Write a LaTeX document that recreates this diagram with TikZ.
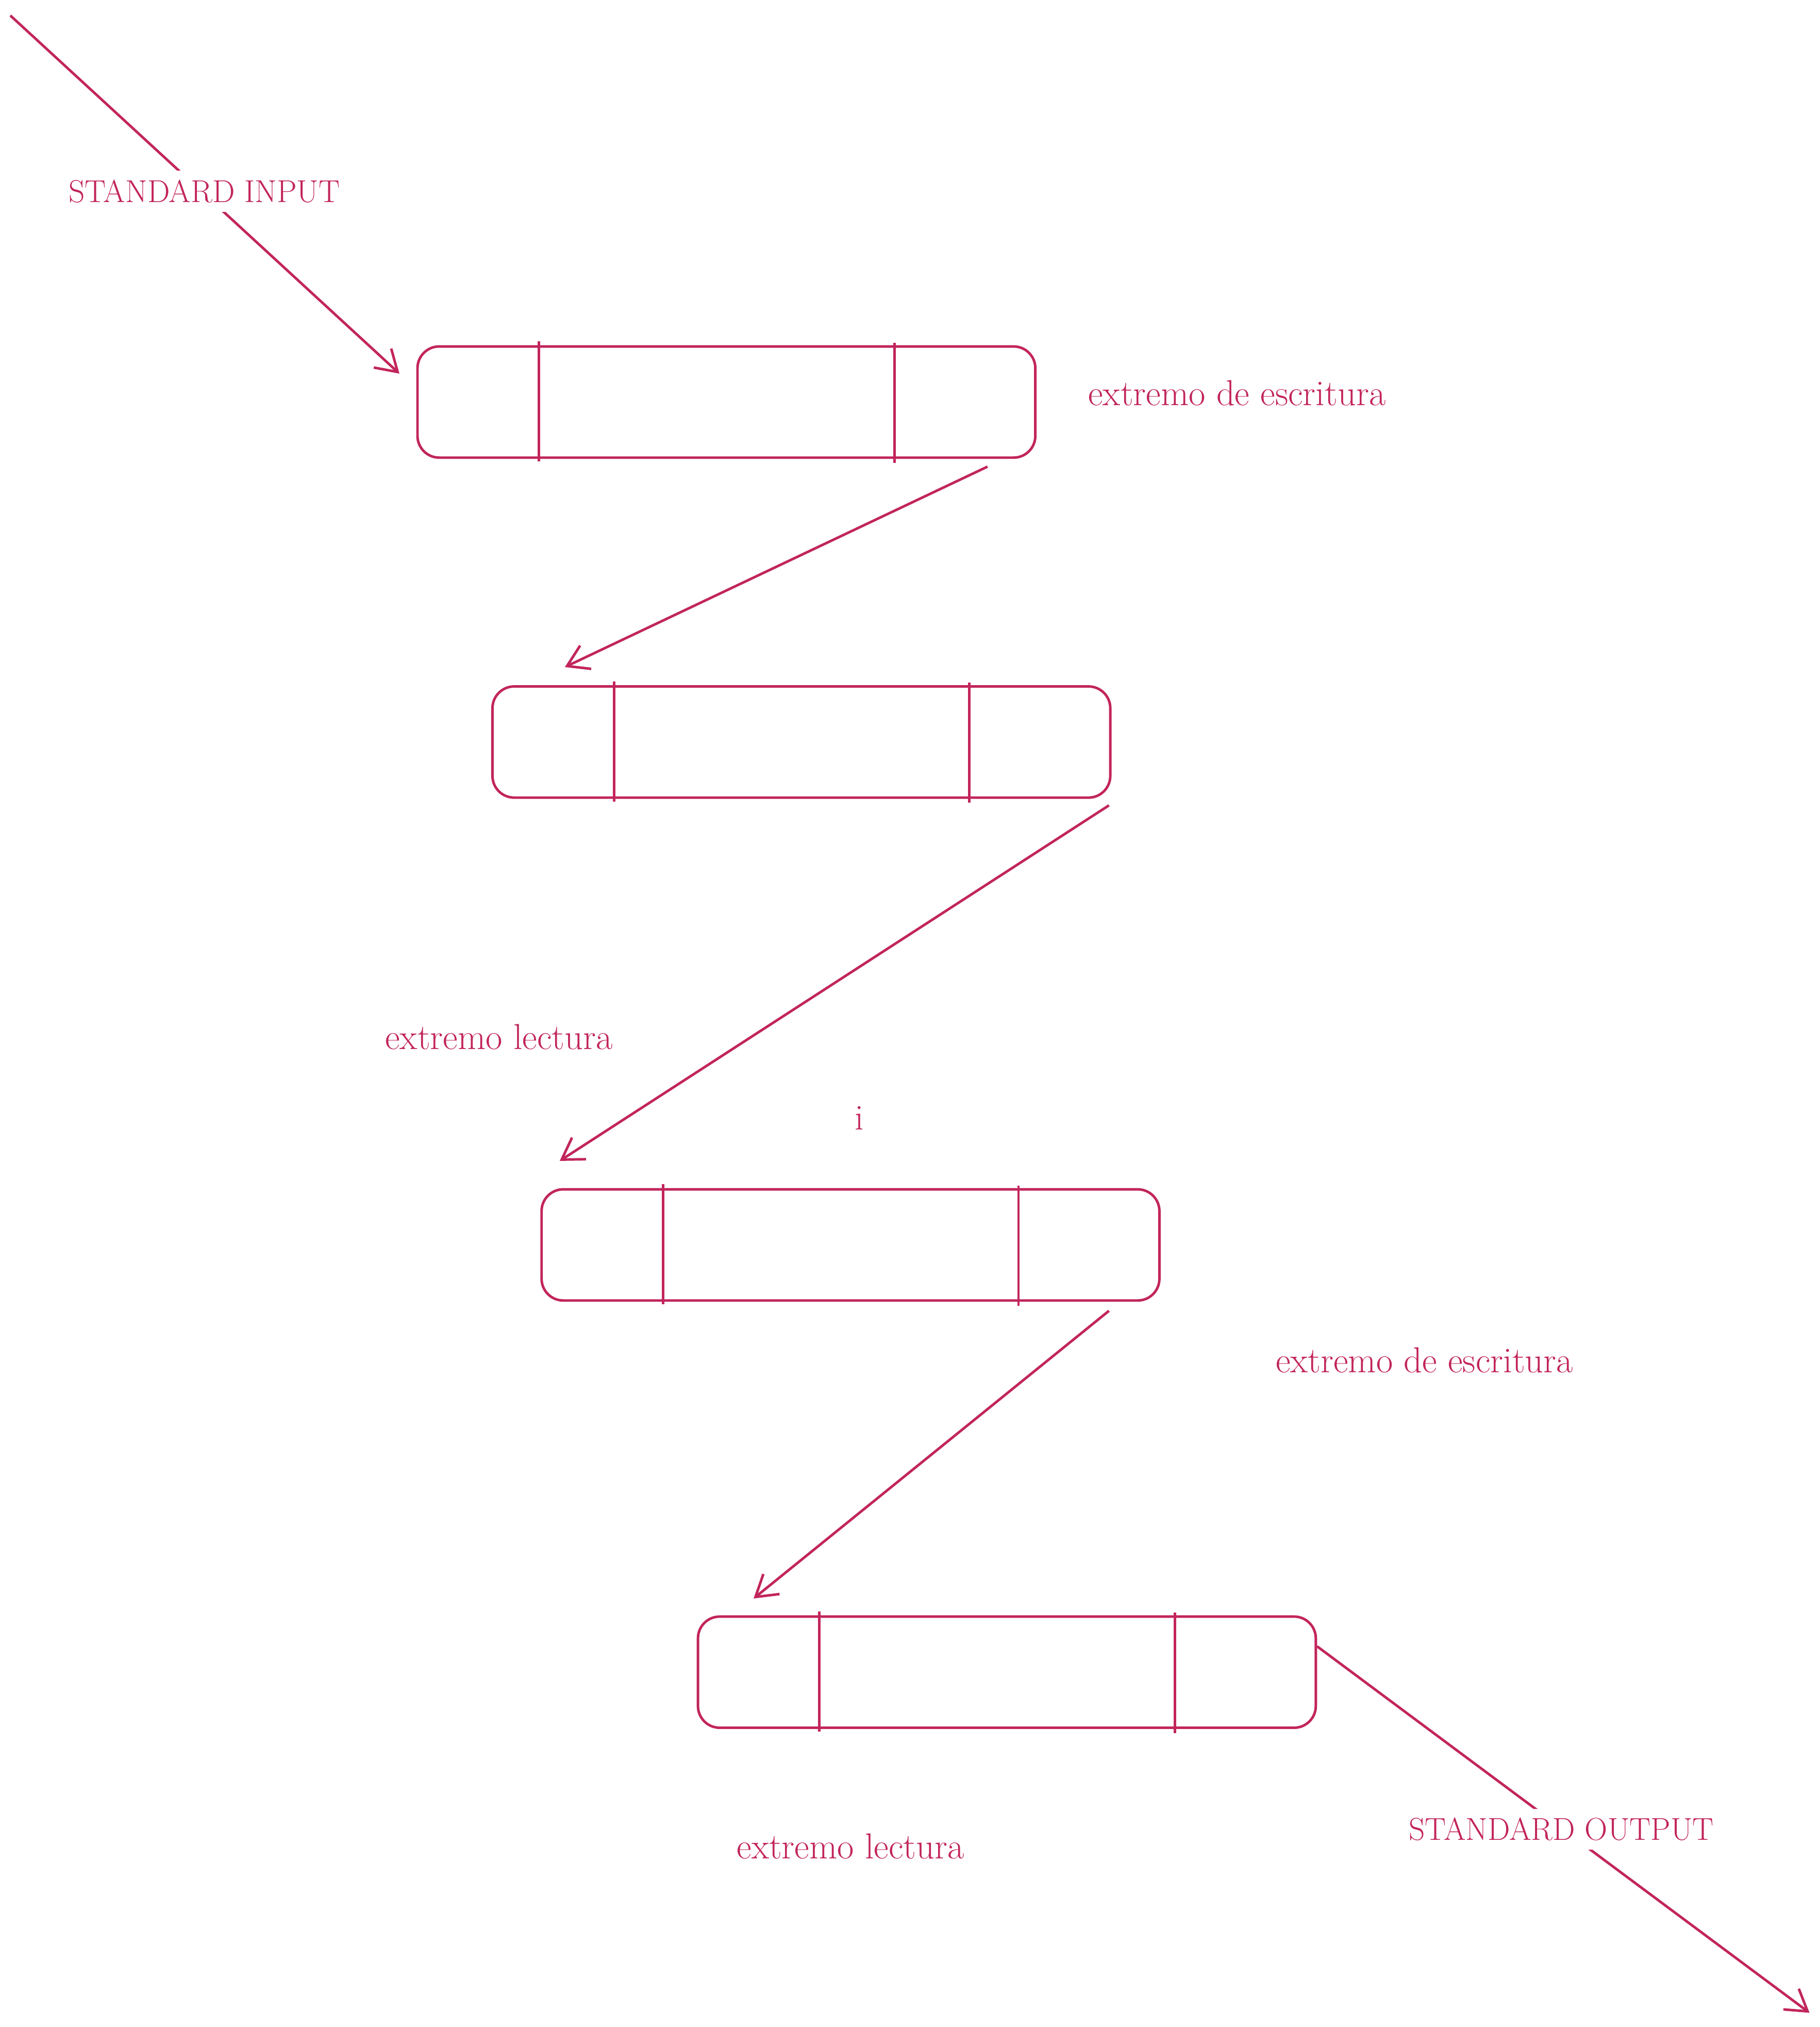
\documentclass[tikz,border=0pt]{standalone}
\usepackage{tikz}
\usetikzlibrary{arrows.meta,calc}
\definecolor{inkpink}{HTML}{C2255C}
\begin{document}
\begin{tikzpicture}[x=0.025085cm, y=0.025085cm, line width=1.4pt, draw=inkpink, inkpink,
  pipe/.style={draw, rounded corners=12, minimum width=478*0.025085cm, minimum height=86*0.025085cm, inner sep=0pt},
  lbl/.style={font=\fontsize{20}{24}\selectfont, text=inkpink},
  stdlbl/.style={font=\fontsize{17.5}{21}\selectfont, text=inkpink, fill=white, inner sep=5pt}]
\tikzset{flow/.style={-{Straight Barb[length=4mm, width=5mm]}}}
\useasboundingbox (0,0) rectangle (1408,-1568);
% pipes
\node [pipe] (box1) at (562,-311) {};
\node [pipe] (box2) at (620,-574) {};
\node [pipe] (box3) at (658,-963) {};
\node [pipe] (box4) at (779,-1293.5) {};
\foreach \b in {box1,box2,box3,box4} {
  \draw ($(\b.north west)+(95,3)$) -- ($(\b.south west)+(95,-2)$);
  \draw ($(\b.north east)+(-110,2)$) -- ($(\b.south east)+(-110,-3)$);
}
\coordinate (in) at (8,-12);
\coordinate (out) at (1400,-1557);
% connectors
\draw [flow] (in) -- ($(box1.north west)+(-13,-22)$);
\draw [flow] ($(box1.south east)+(-38,-6)$) -- ($(box2.north west)+(57,14)$);
\draw [flow] ($(box2.south east)+(-2,-5)$) -- ($(box3.north west)+(15,21)$);
\draw [flow] ($(box3.south east)+(-40,-7)$) -- ($(box4.north west)+(44,13)$);
\draw [flow] ($(box4.north east)+(0,-24)$) -- (out);
% labels
\node [stdlbl] (stdin) at (158,-148) {STANDARD INPUT};
\node [stdlbl] (stdout) at (1208,-1415) {STANDARD OUTPUT};
\node [lbl] (write1) at (957,-304) {extremo de escritura};
\node [lbl] (read1) at (386,-802) {extremo lectura};
\node [lbl] (mark) at (665,-865) {i};
\node [lbl] (write2) at (1102,-1052) {extremo de escritura};
\node [lbl] (read2) at (658,-1428) {extremo lectura};
\end{tikzpicture}
\end{document}
